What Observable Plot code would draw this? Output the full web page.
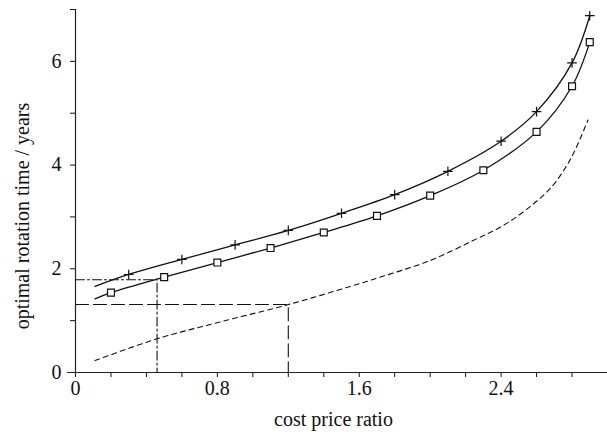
<!DOCTYPE html>
<html><head><meta charset="utf-8">
<script src="https://cdn.jsdelivr.net/npm/d3@7"></script>
<script src="https://cdn.jsdelivr.net/npm/@observablehq/plot@0.6"></script>
<style>body{margin:0;background:#fff;} svg{display:block;}</style>
</head><body><div id="chart"></div>
<script>
// Curve with "+" markers
const plusLineX = [0.11, 0.3, 0.6, 0.9, 1.2, 1.5, 1.8, 2.1, 2.4, 2.6, 2.8, 2.9];
const plusLineY = [1.66, 1.89, 2.18, 2.46, 2.74, 3.07, 3.43, 3.88, 4.46, 5.03, 5.97, 6.88];
const plusMarkX = [0.3, 0.6, 0.9, 1.2, 1.5, 1.8, 2.1, 2.4, 2.6, 2.8, 2.9];
// Curve with square markers
const sqLineX = [0.11, 0.2, 0.5, 0.8, 1.1, 1.4, 1.7, 2.0, 2.3, 2.6, 2.8, 2.9];
const sqLineY = [1.42, 1.54, 1.84, 2.12, 2.40, 2.70, 3.02, 3.41, 3.90, 4.64, 5.52, 6.37];
const sqMarkX = [0.2, 0.5, 0.8, 1.1, 1.4, 1.7, 2.0, 2.3, 2.6, 2.8, 2.9];
// Dashed curve
const dashX = [0.11, 0.46, 0.81, 1.2, 1.55, 1.72, 2.0, 2.245, 2.41, 2.56, 2.68, 2.765, 2.82, 2.89];
const dashY = [0.23, 0.65, 0.97, 1.31, 1.66, 1.84, 2.16, 2.55, 2.83, 3.19, 3.56, 3.96, 4.31, 4.87];
// Reference lines
const dashDotX = [0, 0.46, 0.46];
const dashDotY = [1.79, 1.79, 0];
const longDashX = [0, 1.2, 1.2];
const longDashY = [1.31, 1.31, 0];
// Axes
const xTicks = [0, 0.2, 0.4, 0.6, 0.8, 1.0, 1.2, 1.4, 1.6, 1.8, 2.0, 2.2, 2.4, 2.6, 2.8, 3.0];
const xTickLabels = [0, 0.8, 1.6, 2.4];
const yTicks = [0, 1, 2, 3, 4, 5, 6, 7];
const yTickLabels = [0, 2, 4, 6];
const xTitle = "cost price ratio";
const yTitle = "optimal rotation time / years";

const pts = (xs, ys) => xs.map((x, i) => ({x, y: ys[i]}));
const plusLine = pts(plusLineX, plusLineY);
const plusMarks = plusLine.filter(d => plusMarkX.includes(d.x));
const sqLine = pts(sqLineX, sqLineY);
const sqMarks = sqLine.filter(d => sqMarkX.includes(d.x));
const dashed = pts(dashX, dashY);
const dashDot = pts(dashDotX, dashDotY);
const longDash = pts(longDashX, longDashY);

const font = "Liberation Serif, Times New Roman, serif";
const chart = Plot.plot({
  width: 607,
  height: 436,
  marginLeft: 75,
  marginRight: 0,
  marginTop: 9,
  marginBottom: 64,
  style: {fontFamily: font, fontSize: "20px", color: "#111", background: "#fff"},
  x: {domain: [0, 3], axis: null},
  y: {domain: [0, 7], axis: null},
  marks: [
    Plot.axisX({ticks: xTicks, tickSize: 5, tickPadding: 3,
      tickFormat: d => xTickLabels.some(v => Math.abs(v - d) < 1e-9) ? d3.format("~g")(d) : "",
      label: null, fontSize: 20}),
    Plot.axisY({ticks: yTicks, tickSize: 5, tickPadding: 9,
      tickFormat: d => yTickLabels.includes(d) ? String(d) : "",
      label: null, fontSize: 20}),
    Plot.ruleY([0], {x1: -0.045, x2: 3, stroke: "#222", strokeWidth: 1.2}),
    Plot.ruleX([0], {y1: -0.05, y2: 7, stroke: "#222", strokeWidth: 1.2}),
    Plot.line(dashDot, {x: "x", y: "y", stroke: "#111", strokeWidth: 1.1, strokeDasharray: "9,3,2,3"}),
    Plot.line(longDash, {x: "x", y: "y", stroke: "#111", strokeWidth: 1.1, strokeDasharray: "13,5"}),
    Plot.line(dashed, {x: "x", y: "y", curve: "catmull-rom", stroke: "#111", strokeWidth: 1.1, strokeDasharray: "5,4"}),
    Plot.line(plusLine, {x: "x", y: "y", curve: "catmull-rom", stroke: "#111", strokeWidth: 1.3}),
    Plot.line(sqLine, {x: "x", y: "y", curve: "catmull-rom", stroke: "#111", strokeWidth: 1.3}),
    Plot.dot(plusMarks, {x: "x", y: "y", symbol: "plus", r: 3.2, stroke: "#111", strokeWidth: 1.2}),
    Plot.dot(sqMarks, {x: "x", y: "y", symbol: "square", r: 3.9, stroke: "#111", fill: "white", strokeWidth: 1.2}),
    Plot.text([xTitle], {text: d => d, frameAnchor: "bottom", dx: -8, dy: 47, lineAnchor: "middle", textAnchor: "middle", fontSize: 20, fill: "#111"}),
    Plot.text([yTitle], {text: d => d, frameAnchor: "left", dx: -53, dy: 25, rotate: -90, lineAnchor: "middle", textAnchor: "middle", fontSize: 20, fill: "#111"})
  ]
});
document.getElementById("chart").appendChild(chart);
</script>
</body></html>
